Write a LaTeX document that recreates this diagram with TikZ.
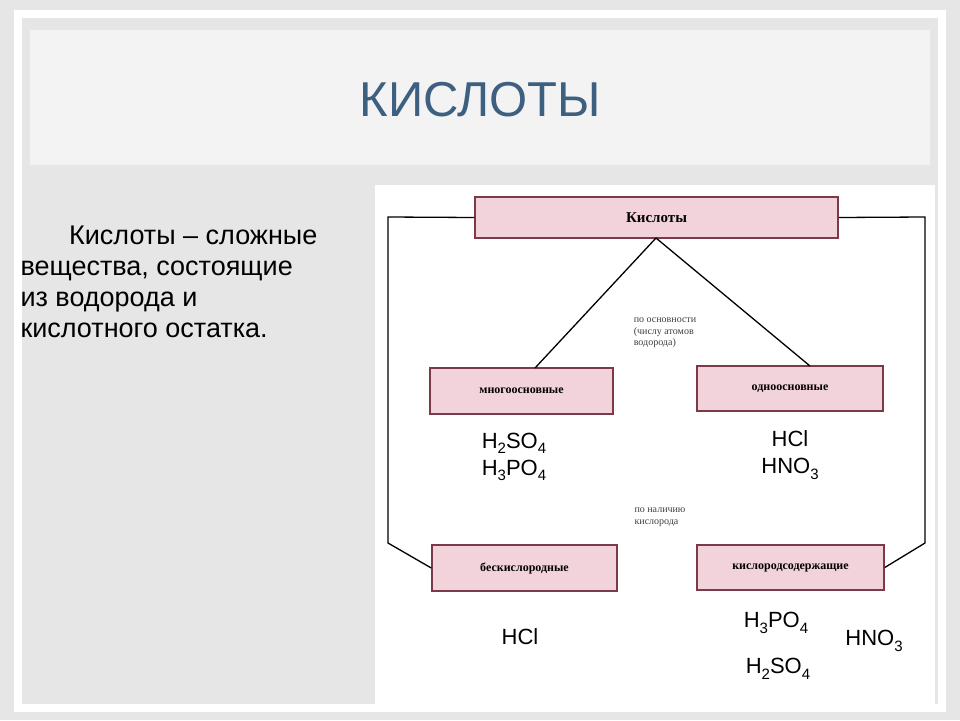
\documentclass[tikz,border=0pt]{standalone}
\usepackage{fontspec}
\setmainfont{Liberation Serif}
\newfontfamily\sansf{Liberation Sans}
\definecolor{bg}{HTML}{E6E6E6}
\definecolor{band}{HTML}{F3F3F3}
\definecolor{ttl}{HTML}{3E6080}
\definecolor{pinkf}{HTML}{F3D3DB}
\definecolor{pinkd}{HTML}{7A3A48}
\newcommand{\sbs}[1]{\raisebox{-0.25em}{\fontsize{15}{15}\selectfont #1}}
\tikzset{pbox/.style={draw=pinkd,line width=1.5pt,fill=pinkf,font=\bfseries\fontsize{11}{13}\selectfont},
 ln/.style={line width=1.3pt},
 formula/.style={font=\sansf\fontsize{22}{27}\selectfont,align=center},
 small/.style={font=\fontsize{10}{11.5}\selectfont,align=left,text=black!75}}
\begin{document}
\begin{tikzpicture}[x=1pt,y=-1pt]
\fill[bg] (0,0) rectangle (960,720);
\fill[white] (14,10) rectangle (946,712);
\fill[bg] (22,18) rectangle (938,704);
\fill[band] (30,30) rectangle (930,165);
\node[font=\sansf\fontsize{49}{53}\selectfont,text=ttl] (title) at (480,100) {КИСЛОТЫ};
\node[font=\sansf\fontsize{27}{31}\selectfont,align=left,anchor=north west] (def) at (17,222)
 {\hspace*{1.8em}Кислоты – сложные\\вещества, состоящие\\из водорода и\\кислотного остатка.};
\fill[white] (375,185) rectangle (935,710);
\node[pbox,minimum width=363,minimum height=41,font=\bfseries\fontsize{15}{17}\selectfont] (k) at (656.5,217.5) {Кислоты};
\node[pbox,minimum width=183,minimum height=46,font=\bfseries\fontsize{12}{14}\selectfont] (m) at (521.5,391) {многоосновные};
\node[pbox,minimum width=186,minimum height=45,font=\bfseries\fontsize{12}{14}\selectfont] (o) at (790,388.5) {одноосновные};
\node[pbox,minimum width=185,minimum height=46,font=\bfseries\fontsize{12}{14}\selectfont] (b) at (524.5,568) {бескислородные};
\node[pbox,minimum width=187,minimum height=45,font=\bfseries\fontsize{12}{14}\selectfont] (s) at (790.5,567.5) {кислородсодержащие};
\coordinate (kb) at (656,238);
\draw[ln] (kb) -- (535,368);
\draw[ln] (kb) -- (810,366);
\coordinate (l1) at (388,217); \coordinate (l2) at (388,543);
\coordinate (r1) at (925,217); \coordinate (r2) at (925,543);
\draw[ln] (k.west) -- (l1) -- (l2) -- (b.west);
\draw[ln] (k.east) -- (r1) -- (r2) -- (s.east);
\node[small] (t1) at (665,333) {по основности\\(числу атомов\\водорода)};
\node[small] (t2) at (660,517) {по наличию\\кислорода};
\node[formula] (f1) at (514,457) {H\sbs{2}SO\sbs{4}\\H\sbs{3}PO\sbs{4}};
\node[formula] (f2) at (790,455) {HCl\\HNO\sbs{3}};
\node[formula] (f3) at (520,637) {HCl};
\node[formula] (f4) at (776,623) {H\sbs{3}PO\sbs{4}};
\node[formula] (f5) at (778,669) {H\sbs{2}SO\sbs{4}};
\node[formula] (f6) at (874,641) {HNO\sbs{3}};
\end{tikzpicture}
\end{document}
